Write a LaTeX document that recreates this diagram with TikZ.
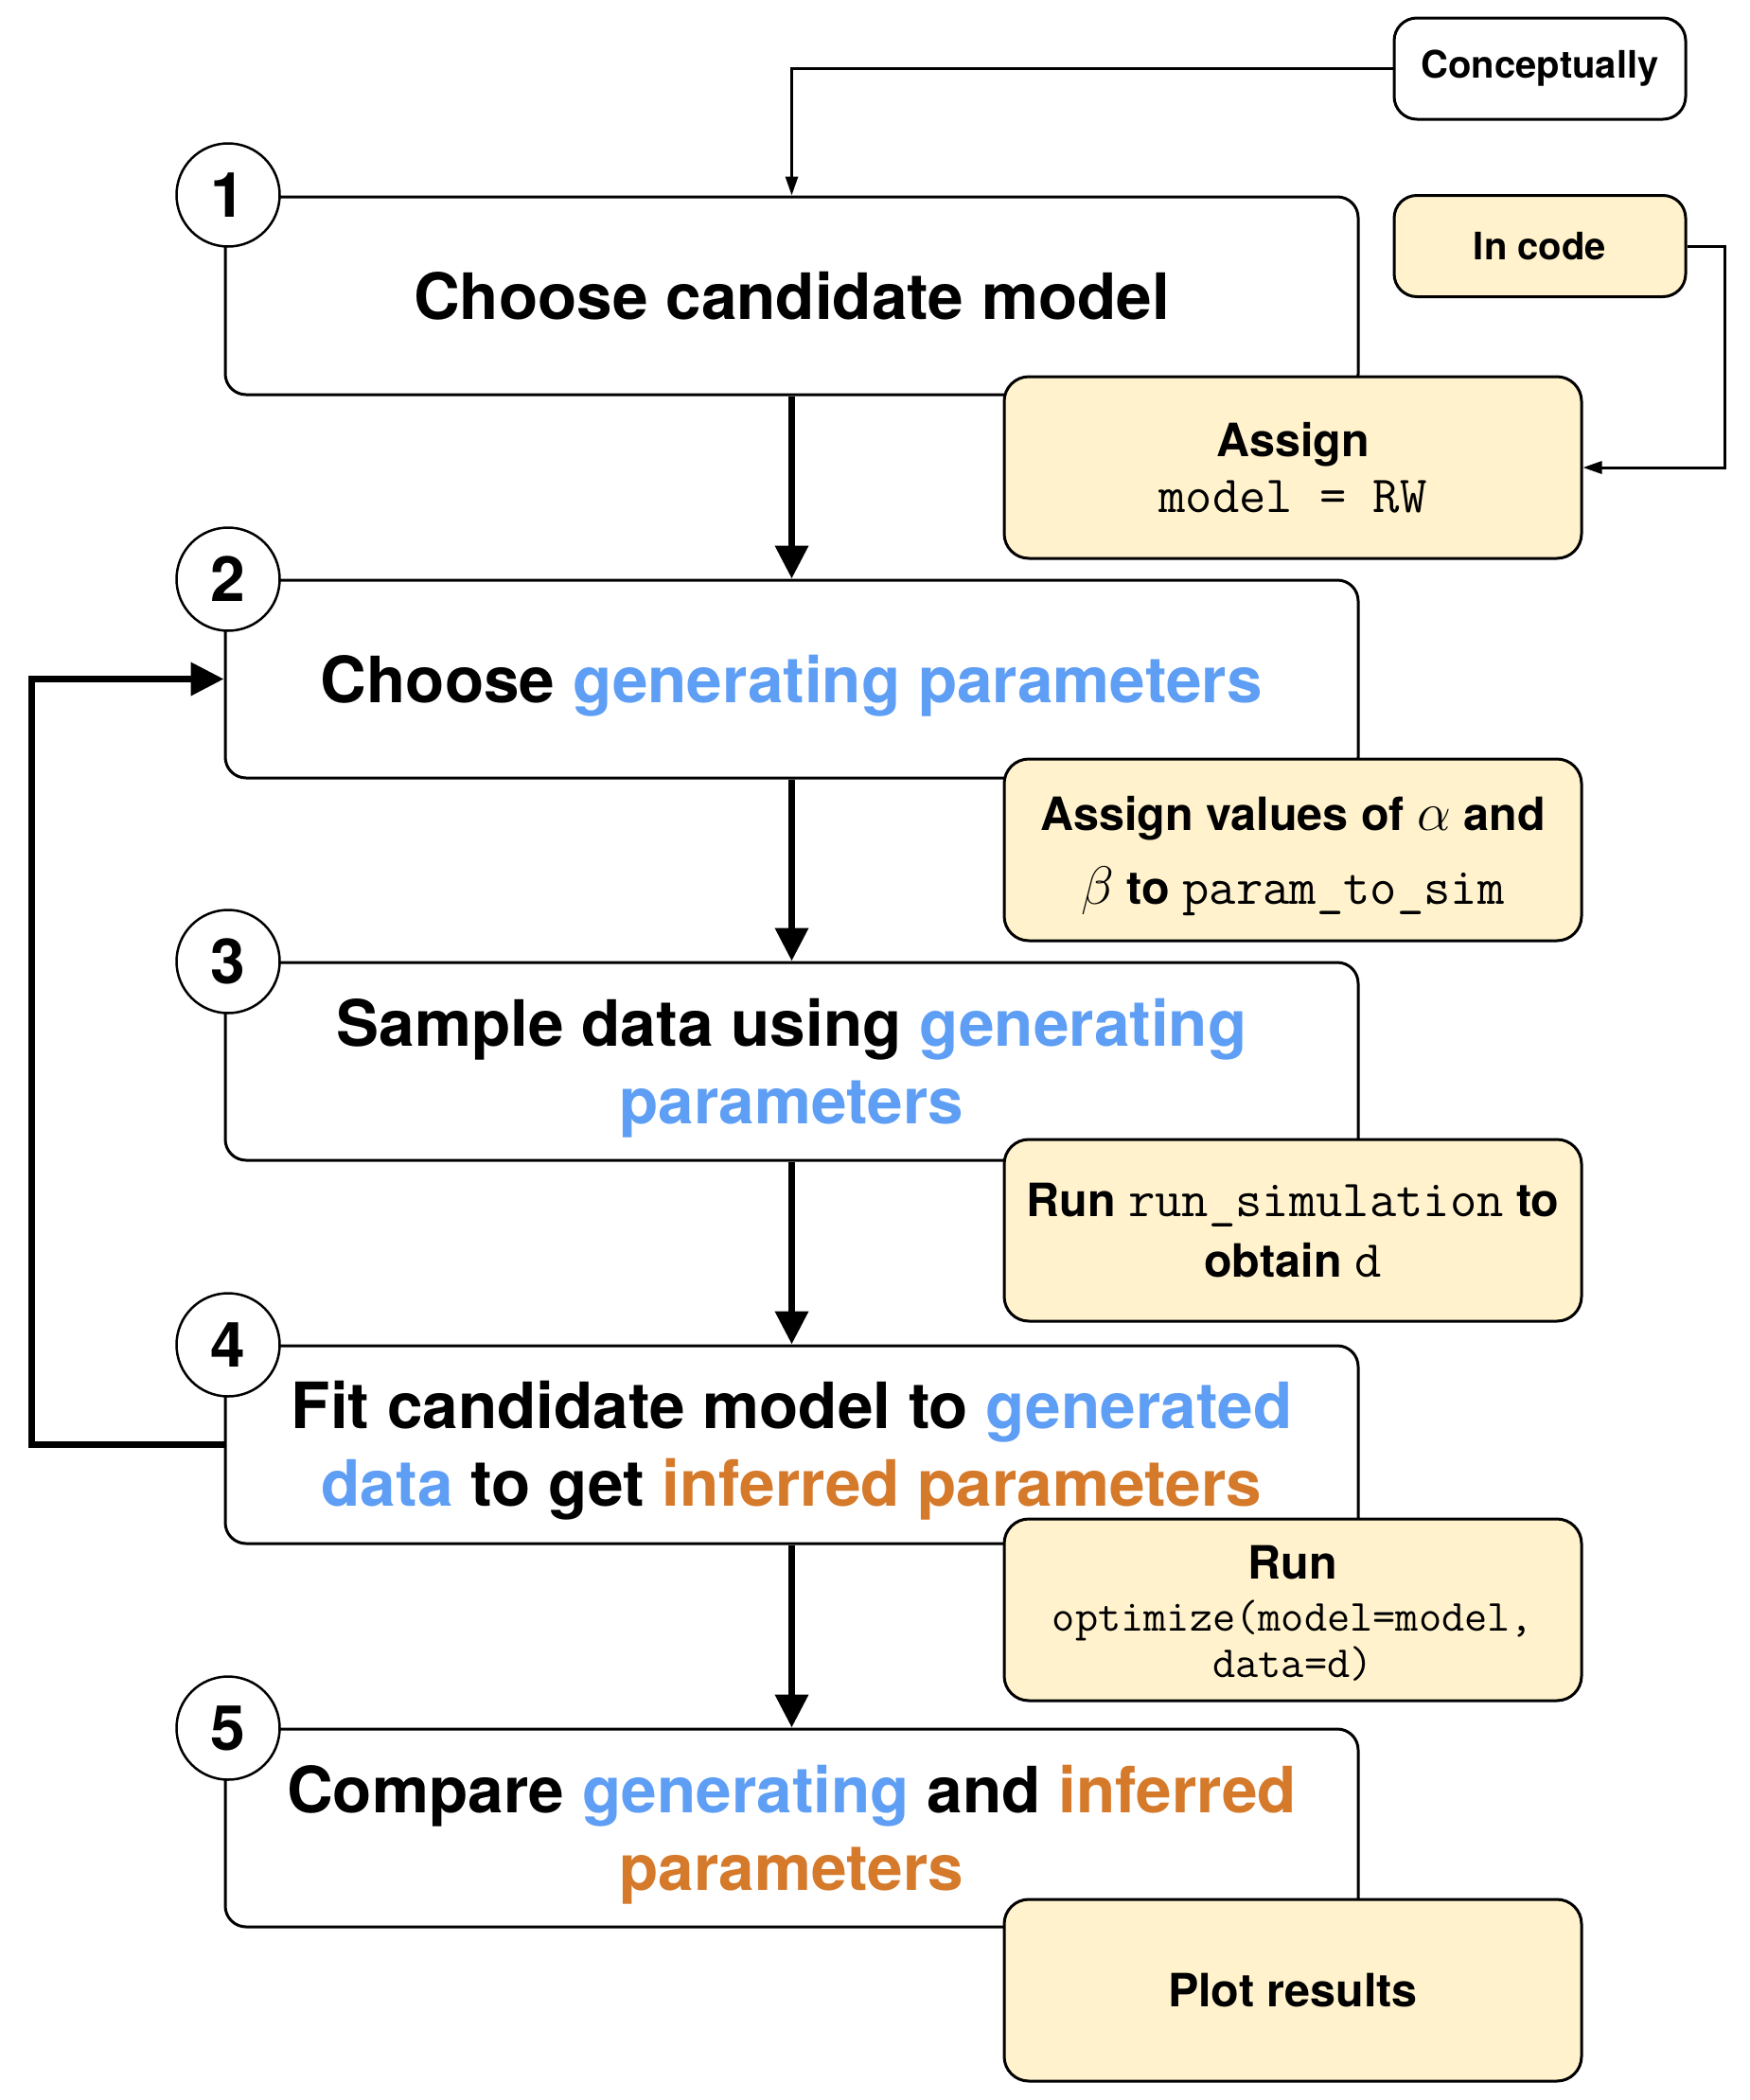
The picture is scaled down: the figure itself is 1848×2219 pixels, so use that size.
\RequirePackage{fix-cm}
\documentclass[tikz,border=0pt]{standalone}
\usepackage{fontspec}
\setmainfont{TeX Gyre Heros}
\usetikzlibrary{arrows.meta}
\definecolor{genblue}{HTML}{5E9EF4}
\definecolor{infor}{HTML}{D5792A}
\definecolor{codeyel}{HTML}{FFF2CC}
\newcommand{\mycode}[1]{{\fontsize{55}{60}\selectfont\mdseries\ttfamily #1}}
\newcommand{\mycodesm}[1]{{\fontsize{47}{50}\selectfont\mdseries\ttfamily #1}}
\newcommand{\mymath}[1]{{\fontsize{57}{60}\selectfont$#1$}}
\newcommand{\genc}[1]{\textcolor{genblue}{#1}}
\newcommand{\infc}[1]{\textcolor{infor}{#1}}
\begin{document}
\begin{tikzpicture}[x=1pt,y=-1pt,
  mainbox/.style={draw=black, line width=3pt, rounded corners=22pt, fill=white,
    minimum width=1197pt, minimum height=209pt, inner sep=0pt},
  maintext/.style={inner sep=0pt, align=center,
    font=\fontsize{67.5}{82}\selectfont\bfseries},
  codebox/.style={draw=black, line width=3pt, rounded corners=26pt, fill=codeyel,
    minimum width=610pt, minimum height=192pt, inner sep=0pt},
  codetext/.style={inner sep=0pt, align=center,
    font=\fontsize{48.5}{57}\selectfont\bfseries},
  numcirc/.style={circle, draw=black, line width=2.5pt, fill=white,
    minimum size=109pt, inner sep=0pt, font=\fontsize{66}{66}\selectfont\bfseries},
  tagbox/.style={draw=black, line width=3pt, rounded corners=24pt,
    minimum width=308pt, minimum height=107pt, inner sep=0pt,
    font=\fontsize{40}{48}\selectfont\bfseries},
  flow/.style={line width=7pt, -{Triangle[length=35pt,width=34pt]}},
  thinflow/.style={line width=3pt, -{Triangle[length=20pt,width=13pt]}},
]
\useasboundingbox (0,0) rectangle (1848,2219);

% main step boxes
\node[mainbox] (b1) at (836.5,312.5) {};
\node[mainbox] (b2) at (836.5,717.5) {};
\node[mainbox] (b3) at (836.5,1121.5) {};
\node[mainbox] (b4) at (836.5,1526.5) {};
\node[mainbox] (b5) at (836.5,1931.5) {};
\node[maintext] (t1) at (b1.center) {Choose candidate model};
\node[maintext] (t2) at ([yshift=-7pt]b2.center) {Choose \genc{generating parameters}};
\node[maintext] (t3) at ([yshift=-7pt]b3.center) {Sample data using \genc{generating}\\\genc{parameters}};
\node[maintext] (t4) at ([yshift=-6pt]b4.center) {Fit candidate model to \genc{generated}\\\genc{data} to get \infc{inferred parameters}};
\node[maintext] (t5) at ([yshift=-7pt]b5.center) {Compare \genc{generating} and \infc{inferred}\\\infc{parameters}};

% tags
\node[tagbox, fill=white] (conc) at (1627,72.5) {Conceptually};
\node[tagbox, fill=codeyel] (incode) at (1627,260) {In code};

% connectors
\draw[flow] (b1.south) -- (b2.north);
\draw[flow] (b2.south) -- (b3.north);
\draw[flow] (b3.south) -- (b4.north);
\draw[flow] (b4.south) -- (b5.north);
\coordinate (fb) at (33,1100);
\draw[flow, line join=miter] (b4.west) -| (fb) |- (b2.west);
\draw[thinflow, line join=miter] (conc.west) -| (b1.north);

% code boxes
\node[codebox] (a1) at (1366,494) {};
\node[codebox] (a2) at (1366,898) {};
\node[codebox] (a3) at (1366,1300) {};
\node[codebox] (a4) at (1366,1701) {};
\node[codebox] (a5) at (1366,2103) {};
\node[codetext] (c1) at (a1.center) {Assign\\[2pt]\mycode{model = RW}};
\node[codetext, font=\fontsize{48.5}{78}\selectfont\bfseries] (c2) at ([yshift=-7pt]a2.center) {Assign values of \mymath{\alpha} and\\\mymath{\beta} to \mycode{param\_to\_sim}};
\node[codetext, font=\fontsize{48.5}{64}\selectfont\bfseries] (c3) at (a3.center) {Run \mycode{run\_simulation} to\\obtain \mycode{d}};
\node[codetext] (c4) at ([yshift=-4pt]a4.center) {Run\\[-2pt]\mycodesm{optimize(model=model,}\\[-8pt]\mycodesm{data=d)}};
\node[codetext] (c5) at (a5.center) {Plot results};

\coordinate (icr) at (1822,494);
\draw[thinflow, line join=miter] (incode.east) -| (icr) -- (a1.east);

% step numbers
\node[numcirc] (n1) at (241,206) {1};
\node[numcirc] (n2) at (241,612) {2};
\node[numcirc] (n3) at (241,1016) {3};
\node[numcirc] (n4) at (241,1421) {4};
\node[numcirc] (n5) at (241,1826) {5};
\end{tikzpicture}
\end{document}
